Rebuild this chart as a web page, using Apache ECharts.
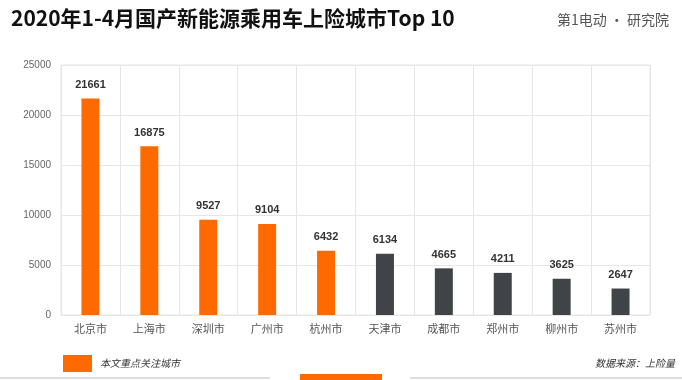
<!DOCTYPE html>
<html><head><meta charset="utf-8">
<script src="https://cdn.jsdelivr.net/npm/echarts@6/dist/echarts.min.js"></script>
<style>html,body{margin:0;padding:0;background:#fff}#c{width:682px;height:380px}</style>
</head><body><div id="c"></div>
<script>
const categories = ['北京市','上海市','深圳市','广州市','杭州市','天津市','成都市','郑州市','柳州市','苏州市'];
const values = [21661,16875,9527,9104,6432,6134,4665,4211,3625,2647];
const focusCount = 5;
const yTicks = [0,5000,10000,15000,20000,25000];

const chart = echarts.init(document.getElementById('c'));
chart.setOption({
  animation:false,
  title:[{text:'2020年1-4月国产新能源乘用车上险城市Top 10',left:6,top:3,textStyle:{fontSize:21,fontWeight:'bold',color:'#111',fontFamily:'Noto Sans CJK SC'}},
         {text:'第1电动 · 研究院',right:8,top:8,textStyle:{fontSize:14,fontWeight:'normal',color:'#555',fontFamily:'Noto Sans CJK SC'}}],
  grid:{left:61,right:32,top:65,bottom:65,show:true,borderColor:'#e6e6e6',borderWidth:1},
  xAxis:{type:'category',data:categories,axisLine:{show:false},axisTick:{show:false},
    splitLine:{show:true,lineStyle:{color:'#e6e6e6'}},
    axisLabel:{color:'#555',fontSize:11,margin:8,fontFamily:'Noto Sans CJK SC'}},
  yAxis:{type:'value',min:yTicks[0],max:yTicks[yTicks.length-1],interval:5000,
    axisLine:{show:false},axisTick:{show:false},
    splitLine:{lineStyle:{color:'#e6e6e6'}},
    axisLabel:{color:'#666',fontSize:10,margin:10,formatter:v=>String(v)}},
  series:[{type:'bar',barWidth:18,
    data:values.map((v,i)=>({value:v,itemStyle:{color:i<focusCount?'#ff6a00':'#404448'}})),
    label:{show:true,position:'top',distance:8,fontSize:11,fontWeight:'bold',color:'#333'}}],
  graphic:[
    {type:'rect',shape:{x:63,y:355,width:29,height:17},style:{fill:'#ff6a00'}},
    {type:'text',style:{x:100,y:358,text:'本文重点关注城市',font:'italic 10px "Noto Sans CJK SC"',fill:'#333'}},
    {type:'text',style:{x:675,y:358,text:'数据来源：上险量',textAlign:'right',font:'italic 10px "Noto Sans CJK SC"',fill:'#333'}},
    {type:'rect',shape:{x:0,y:377,width:270,height:2},style:{fill:'#ddd'}},
    {type:'rect',shape:{x:410,y:377,width:272,height:2},style:{fill:'#ddd'}},
    {type:'rect',shape:{x:300,y:374,width:82,height:6},style:{fill:'#ff6a00'}}
  ]
});
</script></body></html>
